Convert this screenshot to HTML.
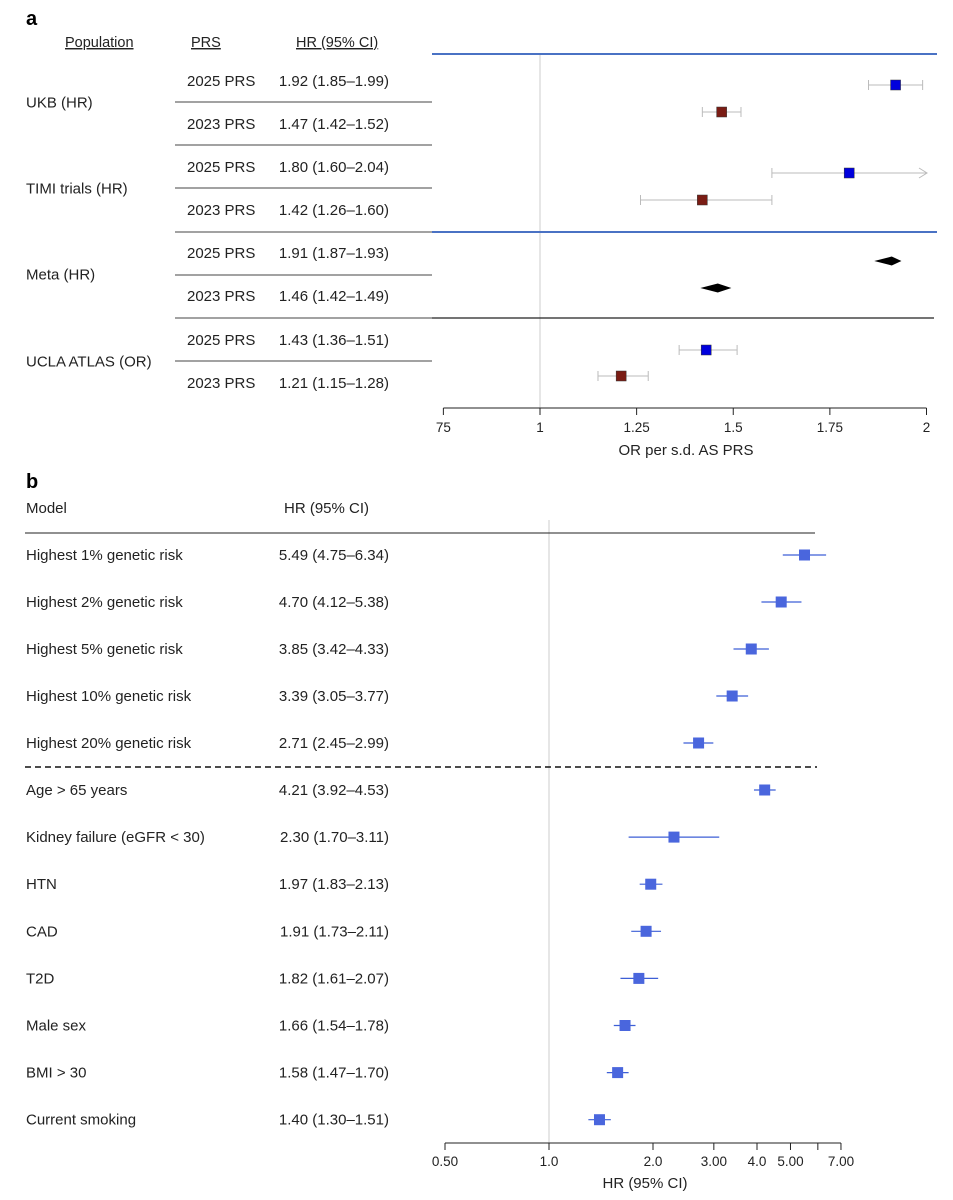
<!DOCTYPE html>
<html><head><meta charset="utf-8"><style>
body{margin:0;background:#fff;}
svg{display:block;font-family:"Liberation Sans",sans-serif;}
</style></head><body>
<svg id="chart" width="953" height="1200" viewBox="0 0 953 1200">
<text x="26" y="25" font-size="20" font-weight="bold">a</text>
<g font-size="14.5" fill="#222">
<text x="65" y="47" text-decoration="underline">Population</text>
<text x="191" y="47" text-decoration="underline">PRS</text>
<text x="296" y="47" text-decoration="underline">HR (95% CI)</text>
</g>
<g id="pa"></g>
<text x="26" y="488" font-size="20" font-weight="bold">b</text>
<text x="26" y="513" font-size="15" fill="#222">Model</text>
<text x="284" y="513" font-size="15" fill="#222">HR (95% CI)</text>
<g id="pb"></g>
</svg>
<script>
const aPop=["UKB (HR)","TIMI trials (HR)","Meta (HR)","UCLA ATLAS (OR)"];
const aPrs=["2025 PRS","2023 PRS"];
const aEst=[1.92,1.47,1.80,1.42,1.91,1.46,1.43,1.21];
const aLo=[1.85,1.42,1.60,1.26,1.87,1.42,1.36,1.15];
const aHi=[1.99,1.52,2.04,1.60,1.93,1.49,1.51,1.28];
const aTicks=[0.75,1,1.25,1.5,1.75,2];
const aTickLabels=["75","1","1.25","1.5","1.75","2"];
const bLabels=["Highest 1% genetic risk","Highest 2% genetic risk","Highest 5% genetic risk","Highest 10% genetic risk","Highest 20% genetic risk","Age > 65 years","Kidney failure (eGFR < 30)","HTN","CAD","T2D","Male sex","BMI > 30","Current smoking"];
const bEst=[5.49,4.70,3.85,3.39,2.71,4.21,2.30,1.97,1.91,1.82,1.66,1.58,1.40];
const bLo=[4.75,4.12,3.42,3.05,2.45,3.92,1.70,1.83,1.73,1.61,1.54,1.47,1.30];
const bHi=[6.34,5.38,4.33,3.77,2.99,4.53,3.11,2.13,2.11,2.07,1.78,1.70,1.51];
const bTicks=[0.5,1,2,3,4,5,6,7];
const bTickLabels=["0.50","1.0","2.0","3.00","4.0","5.00","","7.00"];
const NS="http://www.w3.org/2000/svg";
function mk(p,t,a,txt){const e=document.createElementNS(NS,t);for(const k in a)e.setAttribute(k,a[k]);if(txt!=null)e.textContent=txt;p.appendChild(e);return e;}
const xa=v=>540+(v-1)*386.5;
const xb=v=>445+104*Math.log2(v/0.5);
const pa=document.getElementById('pa'), pb=document.getElementById('pb');
mk(pa,'line',{x1:540,y1:55,x2:540,y2:408,stroke:'#ccc','stroke-width':1});
let l=mk(pa,'line',{x1:432,y1:54,x2:937,y2:54,stroke:'#4a72c4','stroke-width':2});


l=mk(pa,'line',{x1:432,y1:232,x2:937,y2:232,stroke:'#4a72c4','stroke-width':2});


mk(pa,'line',{x1:432,y1:318,x2:934,y2:318,stroke:'#222','stroke-width':1.2});
[102,145,188,232,275,318,361].forEach(y=>mk(pa,'line',{x1:175,y1:y,x2:432,y2:y,stroke:'#444','stroke-width':1}));
const rowY=[81,124,167,210,253,296,340,383];
const ptY=[85,112,173,200,261,288,350,376];
aPop.forEach((p,i)=>{const t=mk(pa,'text',{x:26,y:(rowY[2*i]+rowY[2*i+1])/2+5,'font-size':15,fill:'#222'},p);

});
aEst.forEach((v,i)=>{
 const y=rowY[i]+5;
 let t=mk(pa,'text',{x:187,y:y,'font-size':15,fill:'#222'},aPrs[i%2]);
 
 
 t=mk(pa,'text',{x:389,y:y,'font-size':15,fill:'#222','text-anchor':'end'},v.toFixed(2)+' ('+aLo[i].toFixed(2)+'–'+aHi[i].toFixed(2)+')');
 
 
 const py=ptY[i], x=xa(v), x1=xa(aLo[i]); let x2=xa(aHi[i]);
 if(i==4||i==5){
  const d=mk(pa,'polygon',{points:`${x1-2},${py} ${x},${py-4.5} ${x2+2},${py} ${x},${py+4.5}`,fill:'#000'});
  
  
 } else {
  const arrow=x2>928; if(arrow)x2=927;
  mk(pa,'line',{x1:x1,y1:py,x2:x2,y2:py,stroke:'#bbb','stroke-width':1});
  mk(pa,'line',{x1:x1,y1:py-5,x2:x1,y2:py+5,stroke:'#bbb','stroke-width':1});
  if(arrow) mk(pa,'polyline',{points:`${x2-8},${py-5} ${x2},${py} ${x2-8},${py+5}`,fill:'none',stroke:'#bbb','stroke-width':1});
  else mk(pa,'line',{x1:x2,y1:py-5,x2:x2,y2:py+5,stroke:'#bbb','stroke-width':1});
  const s=mk(pa,'rect',{x:x-5,y:py-5,width:10,height:10,fill:i%2==0?'#0000dd':'#7a1c14',stroke:'#333','stroke-width':0.5});
  
  
 }
});
mk(pa,'line',{x1:xa(0.75),y1:408,x2:xa(2),y2:408,stroke:'#222','stroke-width':1});
aTicks.forEach((v,i)=>{mk(pa,'line',{x1:xa(v),y1:408,x2:xa(v),y2:415,stroke:'#222'});
 const t=mk(pa,'text',{x:xa(v),y:432,'font-size':13.5,'text-anchor':'middle',fill:'#222'},aTickLabels[i]);
 
 });
let at=mk(pa,'text',{x:686,y:455,'font-size':15,'text-anchor':'middle',fill:'#222'},'OR per s.d. AS PRS');


mk(pb,'line',{x1:549,y1:520,x2:549,y2:1143,stroke:'#ccc','stroke-width':1});
mk(pb,'line',{x1:25,y1:533,x2:815,y2:533,stroke:'#222','stroke-width':1});
let dl=mk(pb,'line',{x1:25,y1:767,x2:817,y2:767,stroke:'#111','stroke-width':1.6,'stroke-dasharray':'6,4'});


bEst.forEach((v,i)=>{
 const y=i<5?555+i*47:790+(i-5)*47.1;
 let t=mk(pb,'text',{x:26,y:y+5,'font-size':15,fill:'#222'},bLabels[i]);
 
 
 t=mk(pb,'text',{x:389,y:y+5,'font-size':15,fill:'#222','text-anchor':'end'},v.toFixed(2)+' ('+bLo[i].toFixed(2)+'–'+bHi[i].toFixed(2)+')');
 
 
 mk(pb,'line',{x1:xb(bLo[i]),y1:y,x2:xb(bHi[i]),y2:y,stroke:'#3d5fd6','stroke-width':1.2});
 const s=mk(pb,'rect',{x:xb(v)-5.5,y:y-5.5,width:11,height:11,fill:'#4a66dd'});
 
 
});
mk(pb,'line',{x1:xb(0.5),y1:1143,x2:xb(7),y2:1143,stroke:'#222'});
bTicks.forEach((v,i)=>{mk(pb,'line',{x1:xb(v),y1:1143,x2:xb(v),y2:1150,stroke:'#222'});
 const t=mk(pb,'text',{x:xb(v),y:1166,'font-size':13.5,'text-anchor':'middle',fill:'#222'},bTickLabels[i]);
 
 });
let bt=mk(pb,'text',{x:645,y:1188,'font-size':15,'text-anchor':'middle',fill:'#222'},'HR (95% CI)');


</script>
</body></html>
